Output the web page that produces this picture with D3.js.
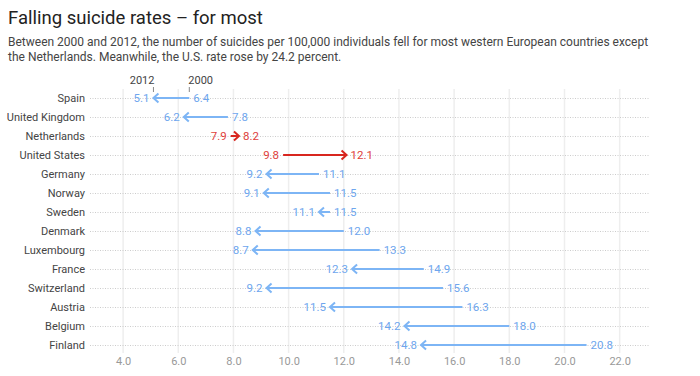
<!DOCTYPE html>
<html>
<head>
<meta charset="utf-8">
<script src="https://cdn.jsdelivr.net/npm/d3@7"></script>
<style>
  body { margin: 0; background: #fff; font-family: Roboto, "Noto Sans", sans-serif; }
</style>
</head>
<body>
<svg id="chart" width="700" height="376"></svg>
<script>
const countries = ["Spain", "United Kingdom", "Netherlands", "United States", "Germany", "Norway",
  "Sweden", "Denmark", "Luxembourg", "France", "Switzerland", "Austria", "Belgium", "Finland"];
const rate2000 = [6.4, 7.8, 7.9, 9.8, 11.1, 11.5, 11.5, 12.0, 13.3, 14.9, 15.6, 16.3, 18.0, 20.8];
const rate2012 = [5.1, 6.2, 8.2, 12.1, 9.2, 9.1, 11.1, 8.8, 8.7, 12.3, 9.2, 11.5, 14.2, 14.8];
const xTicks = [4, 6, 8, 10, 12, 14, 16, 18, 20, 22];

const svg = d3.select("#chart");

svg.append("text").attr("x", 8).attr("y", 24)
  .attr("font-size", 18.5).attr("fill", "#222")
  .text("Falling suicide rates \u2013 for most");
svg.append("text").attr("x", 8).attr("y", 46)
  .attr("font-size", 12).attr("fill", "#444")
  .text("Between 2000 and 2012, the number of suicides per 100,000 individuals fell for most western European countries except");
svg.append("text").attr("x", 8).attr("y", 61)
  .attr("font-size", 12).attr("fill", "#444")
  .text("the Netherlands. Meanwhile, the U.S. rate rose by 24.2 percent.");

const x = d3.scaleLinear().domain([2.8, 23.1]).range([90, 650]);
const y = d3.scalePoint().domain(countries).range([98, 345]);

const blueLine = "#7db5f5", blueText = "#6ea6ee";
const redLine = "#d8261f", redText = "#e0413b";

// vertical grid
svg.append("g").selectAll("line").data(xTicks).join("line")
  .attr("x1", d => x(d)).attr("x2", d => x(d))
  .attr("y1", 89).attr("y2", 353)
  .attr("stroke", "#eee").attr("stroke-width", 1.5);

// horizontal dotted rows
svg.append("g").selectAll("line").data(countries).join("line")
  .attr("x1", 90).attr("x2", 650)
  .attr("y1", d => y(d) + 0.5).attr("y2", d => y(d) + 0.5)
  .attr("stroke", "#ccc").attr("stroke-dasharray", "1,1.5");

// x axis labels
const xAxis = svg.append("g").attr("transform", "translate(0,353)")
  .call(d3.axisBottom(x).tickValues(xTicks).tickFormat(d3.format(".1f")).tickSize(0).tickPadding(4));
xAxis.select(".domain").remove();
xAxis.selectAll("text").attr("font-size", 11).attr("fill", "#999").attr("font-family", "Roboto, sans-serif");

// y axis labels
const yAxis = svg.append("g").attr("transform", "translate(90,0)")
  .call(d3.axisLeft(y).tickSize(0).tickPadding(5));
yAxis.select(".domain").remove();
yAxis.selectAll("text").attr("font-size", 11).attr("fill", "#444").attr("font-family", "Roboto, sans-serif");

// year legend on first row
const y0 = y(countries[0]);
svg.append("line").attr("x1", x(rate2012[0])).attr("x2", x(rate2012[0]))
  .attr("y1", y0 - 11).attr("y2", y0 - 6).attr("stroke", "#888");
svg.append("line").attr("x1", x(rate2000[0])).attr("x2", x(rate2000[0]))
  .attr("y1", y0 - 11).attr("y2", y0 - 6).attr("stroke", "#888");
svg.append("text").attr("x", x(rate2012[0]) + 1).attr("y", y0 - 14)
  .attr("text-anchor", "end").attr("font-size", 11).attr("fill", "#444").text("2012");
svg.append("text").attr("x", x(rate2000[0]) - 1).attr("y", y0 - 14)
  .attr("text-anchor", "start").attr("font-size", 11).attr("fill", "#444").text("2000");

// arrows
const rows = countries.map((c, i) => ({ c, a: rate2000[i], b: rate2012[i], up: rate2012[i] > rate2000[i] }));
const g = svg.append("g");
rows.forEach(r => {
  const cy = y(r.c);
  const x1 = x(r.a), x2 = x(r.b);
  const dir = r.up ? 1 : -1;
  const lc = r.up ? redLine : blueLine;
  const tc = r.up ? redText : blueText;
  g.append("line").attr("x1", x1).attr("x2", x2 - dir * 1).attr("y1", cy).attr("y2", cy)
    .attr("stroke", lc).attr("stroke-width", 2);
  g.append("path")
    .attr("d", `M${x2 - dir * 5},${cy - 4.5}L${x2},${cy}L${x2 - dir * 5},${cy + 4.5}`)
    .attr("fill", "none").attr("stroke", lc).attr("stroke-width", 2)
    .attr("stroke-linejoin", "miter");
  g.append("text").attr("x", x1 - dir * 4).attr("y", cy + 4)
    .attr("text-anchor", r.up ? "end" : "start")
    .attr("font-size", 11.5).attr("fill", tc).text(r.a.toFixed(1));
  g.append("text").attr("x", x2 + dir * 4).attr("y", cy + 4)
    .attr("text-anchor", r.up ? "start" : "end")
    .attr("font-size", 11.5).attr("fill", tc).text(r.b.toFixed(1));
});
</script>
</body>
</html>
